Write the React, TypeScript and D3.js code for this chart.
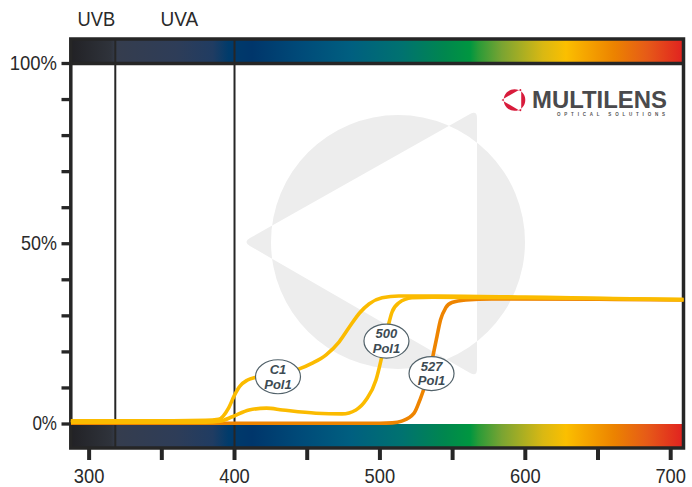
import * as d3 from "d3";

// transmission curves, [wavelength nm, transmission %]
const c1Pol1: [number, number][] = [
  [287, 0.9], [350, 0.9], [380, 1.0], [389, 1.3], [396, 4.5], [400, 8.0], [403.5, 10.4],
  [409, 12.2], [415, 13.0], [430, 14.0], [444.5, 15.3], [453.5, 16.9], [463, 19.2],
  [472, 22.8], [479, 26.9], [486, 30.8], [492.5, 33.3], [501.5, 35.0], [513, 35.5],
  [540, 35.5], [600, 35.2], [650, 34.9], [709, 34.5],
];
const pol500: [number, number][] = [
  [287, 0.5], [380, 0.5], [390, 0.8], [398.5, 2.0], [410, 3.9], [422, 4.4], [433, 3.9],
  [456, 3.0], [474, 2.8], [483.5, 3.9], [490.5, 6.7], [497.3, 12.2], [500.8, 17.8],
  [503.5, 23], [506.2, 28], [508.3, 31], [513, 33.6], [522, 35.0], [536, 35.2],
  [600, 35.0], [650, 34.8], [709, 34.5],
];
const pol527: [number, number][] = [
  [287, 0.2], [500, 0.2], [508.5, 0.3], [515, 0.8], [523.5, 3], [528, 7.2], [530.5, 10],
  [534.5, 14.5], [536.5, 18.9], [539.2, 24.2], [541.7, 28.9], [545.2, 32.2], [549.5, 33.7],
  [559, 34.4], [577, 34.7], [650, 34.6], [709, 34.4],
];

const curveLabels = [
  { lines: ["C1", "Pol1"], at: [429.9, 13.1] },
  { lines: ["500", "Pol1"], at: [504.5, 23.0] },
  { lines: ["527", "Pol1"], at: [535.5, 14.0] },
];

const xTicks = [300, 350, 400, 450, 500, 550, 600, 650, 700];
const xTickLabels = [300, 400, 500, 600, 700];
const yTicks = [0, 10, 20, 30, 40, 50, 60, 70, 80, 90, 100];
const yTickLabels = [0, 50, 100];
const bandEdges = [318, 400];
const bandNames = [
  { name: "UVB", at: 305 },
  { name: "UVA", at: 362 },
];

// spectrum colour stops [nm, colour]
const spectrum: [number, string][] = [
  [288, "#222226"], [315, "#2f333b"], [319, "#353d4e"], [360, "#2e3d58"], [385, "#203c62"],
  [396, "#003b6b"], [412, "#00366b"], [446, "#004b79"], [480, "#005f80"], [515, "#007270"],
  [545, "#00874e"], [562, "#009640"], [568, "#2b9b38"], [584, "#7aa432"], [612, "#d9b813"],
  [628, "#fbbf00"], [640, "#f6a800"], [661, "#ec8300"], [684, "#e65a18"], [708, "#e12320"],
];

const W = 692;
const H = 487;
const ink = "#262626";
const font = "'Liberation Sans', Arial, sans-serif";

function roundedTri(pts: [number, number][], r: number) {
  let d = "";
  pts.forEach((v, i) => {
    const p = pts[(i + pts.length - 1) % pts.length];
    const n = pts[(i + 1) % pts.length];
    const lp = Math.hypot(p[0] - v[0], p[1] - v[1]);
    const ln = Math.hypot(n[0] - v[0], n[1] - v[1]);
    const a = [v[0] + ((p[0] - v[0]) * r) / lp, v[1] + ((p[1] - v[1]) * r) / lp];
    const b = [v[0] + ((n[0] - v[0]) * r) / ln, v[1] + ((n[1] - v[1]) * r) / ln];
    d += `${i === 0 ? "M" : "L"}${a[0]},${a[1]}Q${v[0]},${v[1]} ${b[0]},${b[1]}`;
  });
  return d + "Z";
}

// logo mark: circle xor triangle
function logoPath(cx: number, cy: number, s: number) {
  const r = 127 * s;
  const circle = `M${cx - r},${cy}a${r},${r} 0 1 0 ${2 * r},0a${r},${r} 0 1 0 ${-2 * r},0Z`;
  const tri = roundedTri(
    [
      [cx - 155 * s, cy],
      [cx + 79 * s, cy - 132 * s],
      [cx + 79 * s, cy + 135 * s],
    ],
    8 * s
  );
  return circle + tri;
}

export default function App() {
  const x = d3.scaleLinear().domain([287.4, 708.8]).range([70.8, 683.5]);
  const y = d3.scaleLinear().domain([0, 100]).range([424, 63.5]);
  const [x0, x1] = x.range();
  const top = 39;
  const bottom = 448;

  const line = d3
    .line<[number, number]>()
    .x((d) => x(d[0]))
    .y((d) => y(d[1]))
    .curve(d3.curveMonotoneX);

  const span = x1 - x0;

  return (
    <svg width={W} height={H} style={{ position: "absolute", left: 0, top: 0, background: "#fff" }}>
      <defs>
        <linearGradient id="spec" gradientUnits="userSpaceOnUse" x1={x0} x2={x1} y1={0} y2={0}>
          {spectrum.map(([nm, c], i) => (
            <stop key={i} offset={(x(nm) - x0) / span} stopColor={c} />
          ))}
        </linearGradient>
        <clipPath id="plot">
          <rect x={x0} y={top} width={span} height={bottom - top} />
        </clipPath>
      </defs>

      {/* spectrum bands */}
      <rect x={x0} y={top} width={span} height={y(100) - top} fill="url(#spec)" />
      <rect x={x0} y={y(0)} width={span} height={bottom - y(0)} fill="url(#spec)" />

      {/* watermark */}
      <path d={logoPath(398, 242, 1)} fill="#ededed" fillRule="evenodd" />

      {/* logo */}
      <path d={logoPath(514.5, 100, 0.085)} fill="#d81b3b" fillRule="evenodd" />
      <text x={532} y={107.5} fontFamily={font} fontWeight="bold" fontSize={23} fill="#4a4a4c"
        textLength={135} lengthAdjust="spacingAndGlyphs">MULTILENS</text>
      <text x={557} y={115.5} fontFamily={font} fontWeight="bold" fontSize={4.5} fill="#555"
        textLength={108} lengthAdjust="spacing">OPTICAL SOLUTIONS</text>

      {/* UV boundaries */}
      {bandEdges.map((nm) => (
        <line key={nm} x1={x(nm)} x2={x(nm)} y1={top} y2={bottom} stroke={ink} strokeWidth={2} />
      ))}

      {/* frame */}
      <line x1={x0} x2={x1} y1={y(100)} y2={y(100)} stroke={ink} strokeWidth={3.5} />
      <rect x={x0} y={top} width={span} height={bottom - top} fill="none" stroke={ink} strokeWidth={3.5} />

      {/* curves */}
      <g clipPath="url(#plot)" fill="none" strokeWidth={3.6} strokeLinecap="round">
        <path d={line(pol527) ?? ""} stroke="#ee8400" />
        <path d={line(pol500) ?? ""} stroke="#fbbb00" />
        <path d={line(c1Pol1) ?? ""} stroke="#fbbb00" />
      </g>

      {curveLabels.map((l, i) => {
        const cx = x(l.at[0]);
        const cy = y(l.at[1]);
        return (
          <g key={i}>
            <ellipse cx={cx} cy={cy} rx={22.5} ry={17} fill="#fff" stroke="#52626a" strokeWidth={1.2} />
            <text x={cx} y={cy - 2.8} textAnchor="middle" fontFamily={font} fontWeight="bold"
              fontStyle="italic" fontSize={13} fill="#3d4b53">{l.lines[0]}</text>
            <text x={cx} y={cy + 11.8} textAnchor="middle" fontFamily={font} fontWeight="bold"
              fontStyle="italic" fontSize={13} fill="#3d4b53">{l.lines[1]}</text>
          </g>
        );
      })}

      {/* y axis */}
      {yTicks.map((t) => (
        <line key={t} x1={61.5} x2={x0} y1={y(t)} y2={y(t)} stroke={ink} strokeWidth={3.3} />
      ))}
      {yTickLabels.map((t) => {
        const s = `${t}%`;
        return (
          <text key={t} x={57} y={y(t) + 6.3} textAnchor="end" fontFamily={font} fontSize={21}
            fill="#2a2a2a" textLength={s.length * 11.3 + 2} lengthAdjust="spacingAndGlyphs">{s}</text>
        );
      })}

      {/* x axis */}
      {xTicks.map((t) => (
        <line key={t} x1={x(t)} x2={x(t)} y1={bottom} y2={460} stroke={ink} strokeWidth={4} />
      ))}
      {xTickLabels.map((t) => (
        <text key={t} x={x(t) - 15.3} y={483} fontFamily={font} fontSize={21} fill="#2a2a2a"
          textLength={30.6} lengthAdjust="spacingAndGlyphs">{t}</text>
      ))}

      {bandNames.map((b) => (
        <text key={b.name} x={x(b.at) - 18.8} y={26} fontFamily={font} fontSize={21} fill="#2a2a2a"
          textLength={37.6} lengthAdjust="spacingAndGlyphs">{b.name}</text>
      ))}
    </svg>
  );
}
